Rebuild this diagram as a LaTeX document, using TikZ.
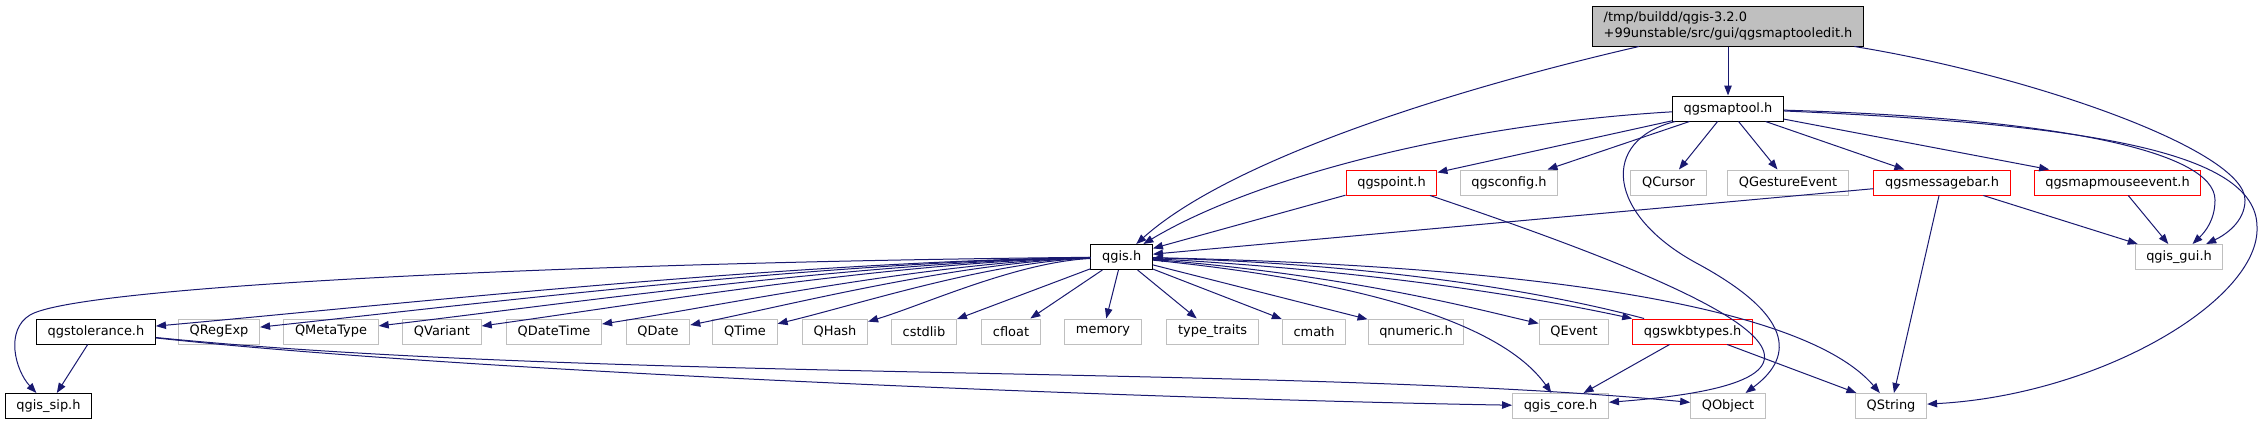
\documentclass[tikz,border=0pt]{standalone}
\usepackage{fontspec}
\setmainfont{DejaVu Sans}
\usetikzlibrary{arrows.meta}
\definecolor{edgeblue}{HTML}{191970}
\definecolor{grayborder}{HTML}{BFBFBF}
\definecolor{redborder}{HTML}{FF0000}
\definecolor{mainfill}{HTML}{BFBFBF}
\begin{document}
\begin{tikzpicture}[x=0.75pt,y=-0.75pt,
  box/.style={font=\fontsize{9.7pt}{11.6pt}\selectfont, inner xsep=8.4pt, inner ysep=0pt, minimum height=18.75pt, line width=0.75pt, fill=white},
  blackbox/.style={box, draw=black},
  redbox/.style={box, draw=redborder},
  graybox/.style={box, draw=grayborder},
  mainbox/.style={box, draw=black, fill=mainfill, align=left, minimum height=30pt},
  dep/.style={draw=edgeblue, line width=0.75pt, -{Triangle[length=7.5pt,width=5.6pt]}}
]
\useasboundingbox (0,0) rectangle (2262,425);
% row 0
\node[mainbox] (main) at (1728,26) {/tmp/buildd/qgis-3.2.0\\+99unstable/src/gui/qgsmaptooledit.h};
% row 1
\node[blackbox] (maptool) at (1728,108.5) {qgsmaptool.h};
% row 2
\node[redbox]  (point)   at (1391.5,182.5) {qgspoint.h};
\node[graybox] (config)  at (1509,182.5) {qgsconfig.h};
\node[graybox] (cursor)  at (1668.5,182.5) {QCursor};
\node[graybox] (gesture) at (1788,182.5) {QGestureEvent};
\node[redbox]  (msgbar)  at (1942,182.5) {qgsmessagebar.h};
\node[redbox]  (mouse)   at (2117.5,182.5) {qgsmapmouseevent.h};
% row 3
\node[blackbox] (qgis) at (1121.7,257) {qgis.h};
\node[graybox]  (gui)  at (2179,257) {qgis\_gui.h};
% row 4
\node[blackbox] (tol)      at (96,331.5) {qgstolerance.h};
\node[graybox]  (regexp)   at (219,331.5) {QRegExp};
\node[graybox]  (metatype) at (331,331.5) {QMetaType};
\node[graybox]  (variant)  at (442,331.5) {QVariant};
\node[graybox]  (datetime) at (554,331.5) {QDateTime};
\node[graybox]  (date)     at (658,331.5) {QDate};
\node[graybox]  (time)     at (745,331.5) {QTime};
\node[graybox]  (hash)     at (835,331.5) {QHash};
\node[graybox]  (cstdlib)  at (924,331.5) {cstdlib};
\node[graybox]  (cfloat)   at (1011,331.5) {cfloat};
\node[graybox]  (memory)   at (1103,331.5) {memory};
\node[graybox]  (traits)   at (1212.6,331.5) {type\_traits};
\node[graybox]  (cmath)    at (1314,331.5) {cmath};
\node[graybox]  (qnumeric) at (1416,331.5) {qnumeric.h};
\node[graybox]  (qevent)   at (1574,331.5) {QEvent};
\node[redbox]   (wkb)      at (1692.6,331.5) {qgswkbtypes.h};
% row 5
\node[blackbox] (sip)     at (48.5,406) {qgis\_sip.h};
\node[graybox]  (core)    at (1560.5,406) {qgis\_core.h};
\node[graybox]  (qobject) at (1728,406) {QObject};
\node[graybox]  (qstring) at (1891,406) {QString};

% edges from main
\draw[dep] (main) -- (maptool);
\draw[dep] (main) .. controls (1450,90) and (1230,160) .. (qgis);
\draw[dep] (main) .. controls (2030,75) and (2245,150) .. (2245,200) .. controls (2245,222) and (2225,235) .. (gui);
% edges from qgsmaptool
\draw[dep] (maptool) .. controls (1450,125) and (1250,180) .. (qgis);
\draw[dep] (maptool) -- (point);
\draw[dep] (maptool) -- (config);
\draw[dep] (maptool) -- (cursor);
\draw[dep] (maptool) -- (gesture);
\draw[dep] (maptool) -- (msgbar);
\draw[dep] (maptool) -- (mouse);
\draw[dep] (maptool) .. controls (2050,118) and (2215,150) .. (2215,200) .. controls (2215,220) and (2205,232) .. (gui);
\draw[dep] (maptool) .. controls (2080,124) and (2257,150) .. (2257,227) .. controls (2260,300) and (2100,395) .. (qstring);
\draw[dep] (maptool) .. controls (1600,140) and (1605,215) .. (1700,265) .. controls (1800,320) and (1790,360) .. (qobject);
% edges from row 2
\draw[dep] (point) -- (qgis);
\draw[dep] (point) .. controls (1740,300) and (1900,380) .. (core);
\draw[dep] (msgbar) -- (qgis);
\draw[dep] (msgbar) -- (gui);
\draw[dep] (msgbar) -- (qstring);
\draw[dep] (mouse) -- (gui);
% edges from qgis.h
\draw[dep] (qgis) .. controls (600,262) and (80,285) .. (30,315) .. controls (5,330) and (15,370) .. (sip);
\draw[dep] (qgis) .. controls (782.4,262) and (389.75,305) .. (tol);
\draw[dep] (qgis) .. controls (816.5,262) and (467.2,305) .. (regexp);
\draw[dep] (qgis) .. controls (855.7,262) and (556.25,305) .. (metatype);
\draw[dep] (qgis) .. controls (889.7,262) and (633.5,305) .. (variant);
\draw[dep] (qgis) .. controls (929.6,262) and (724.25,305) .. (datetime);
\draw[dep] (qgis) .. controls (958.3,262) and (789.5,305) .. (date);
\draw[dep] (qgis) .. controls (987.7,262) and (856.25,305) .. (time);
\draw[dep] (qgis) .. controls (1017,262) and (923.4,305) .. (hash);
\draw[dep] (qgis) -- (cstdlib);
\draw[dep] (qgis) -- (cfloat);
\draw[dep] (qgis) -- (memory);
\draw[dep] (qgis) -- (traits);
\draw[dep] (qgis) -- (cmath);
\draw[dep] (qgis) -- (qnumeric);
\draw[dep] (qgis) .. controls (1350,275) and (1480,310) .. (qevent);
\draw[dep] (qgis) .. controls (1400,272) and (1560,303) .. (wkb);
\draw[dep] (qgis) .. controls (1350,280) and (1500,320) .. (core);
\draw[dep] (qgis) .. controls (1500,265) and (1800,300) .. (qstring);
% edges from row 4
\draw[dep] (wkb) .. controls (1560,296) and (1400,265) .. (qgis);
\draw[dep] (wkb) -- (core);
\draw[dep] (wkb) -- (qstring);
\draw[dep] (tol) -- (sip);
\draw[dep] (tol) .. controls (500,375) and (1200,400) .. (core);
\draw[dep] (tol) .. controls (600,382) and (1300,365) .. (qobject);
\end{tikzpicture}
\end{document}
